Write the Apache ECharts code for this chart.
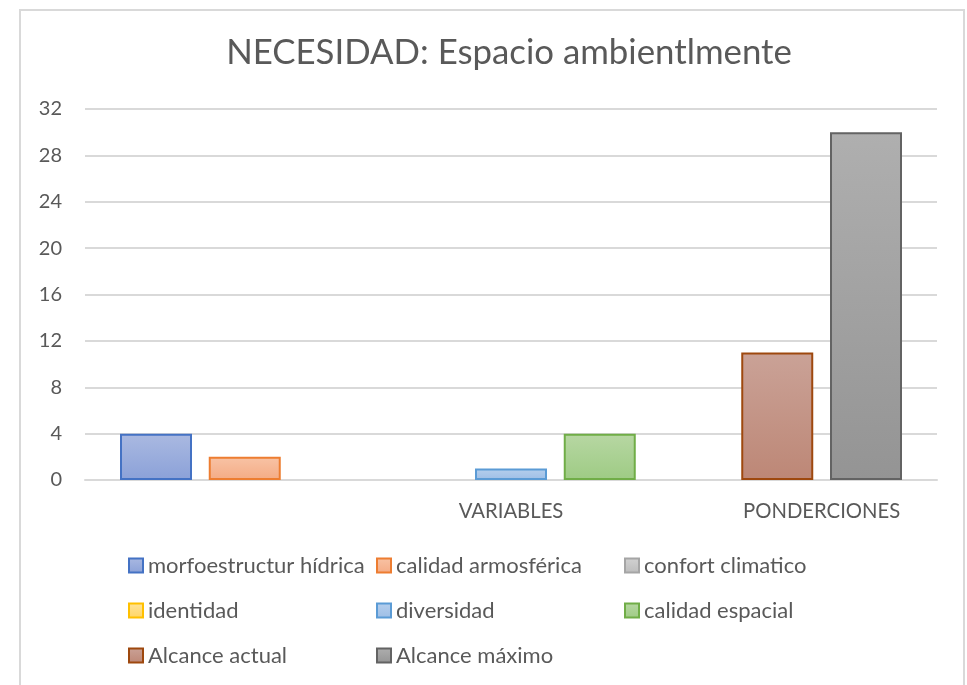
<!DOCTYPE html>
<html>
<head>
<meta charset="utf-8">
<script src="https://cdn.jsdelivr.net/npm/echarts@6/dist/echarts.min.js"></script>
<style>
  html, body { margin: 0; padding: 0; background: #fff; }
  #chart { width: 967px; height: 685px; }
</style>
</head>
<body>
<div id="chart"></div>
<script>
  // data
  var groupLabels = ['', 'VARIABLES', 'PONDERCIONES'];
  var seriesNames = [
    'morfoestructur hídrica', 'calidad armosférica', 'confort climatico',
    'identidad', 'diversidad', 'calidad espacial',
    'Alcance actual', 'Alcance máximo'
  ];
  var seriesValues = [4, 2, null, null, 1, 4, 11, 30];
  var yTicks = [0, 4, 8, 12, 16, 20, 24, 28, 32];

  // layout: where each series sits along the x axis, and where group labels go
  var slotOf = [0, 1, 2, 3, 4, 5, 7, 8];
  var groupPos = [null, 4, 7.5];

  var fills = [
    ['#aab9e1', '#8ba1d8', '#4472c4'],
    ['#f8c3a5', '#f4ab85', '#ed7d31'],
    ['#d2d2d2', '#bcbcbc', '#a5a5a5'],
    ['#ffe49c', '#ffd563', '#ffc000'],
    ['#b6cfed', '#9dbee6', '#5b9bd5'],
    ['#b7d7a3', '#9ecb84', '#70ad47'],
    ['#caa297', '#bd8776', '#9e480e'],
    ['#afafaf', '#949494', '#636363']
  ];

  var font = 'Lato, "Open Sans", sans-serif';
  var textColor = '#595959';

  var myChart = echarts.init(document.getElementById('chart'));

  var series = seriesNames.map(function (name, i) {
    return {
      name: name,
      type: 'bar',
      barWidth: 72,
      barGap: '-100%',
      data: [[slotOf[i], seriesValues[i]]],
      itemStyle: {
        color: new echarts.graphic.LinearGradient(0, 0, 0, 1, [
          {offset: 0, color: fills[i][0]},
          {offset: 1, color: fills[i][1]}
        ]),
        borderColor: fills[i][2],
        borderWidth: 2
      },
      emphasis: {disabled: true}
    };
  });

  myChart.setOption({
    animation: false,
    textStyle: {fontFamily: font},
    title: {
      text: 'NECESIDAD: Espacio ambientlmente',
      left: 509,
      top: 35,
      padding: 0,
      textAlign: 'center',
      textStyle: {
        fontFamily: font,
        fontSize: 34.8,
        fontWeight: 'normal',
        color: textColor
      }
    },
    graphic: [{
      type: 'rect',
      shape: {x: 20, y: 10, width: 944, height: 700},
      style: {fill: 'none', stroke: '#d9d9d9', lineWidth: 2},
      silent: true
    }],
    legend: {
      data: seriesNames,
      left: 128,
      top: 543,
      padding: 0,
      width: 760,
      itemGap: 0,
      itemWidth: 14,
      itemHeight: 14,
      icon: 'rect',
      textStyle: {
        fontFamily: font,
        fontSize: 22,
        color: textColor,
        width: 228,
        lineHeight: 45
      }
    },
    grid: {
      left: 85,
      right: 30,
      top: 109,
      bottom: 205,
      containLabel: false
    },
    xAxis: {
      type: 'value',
      min: -0.8,
      max: 8.8,
      splitLine: {show: false},
      axisTick: {show: false},
      axisLine: {show: true, lineStyle: {color: '#d9d9d9', width: 2}},
      axisLabel: {
        customValues: groupPos.filter(function (p) { return p !== null; }),
        formatter: function (v) {
          var k = groupPos.indexOf(v);
          return k >= 0 ? groupLabels[k] : '';
        },
        margin: 21,
        fontFamily: font,
        fontSize: 20.3,
        color: textColor
      }
    },
    yAxis: {
      type: 'value',
      min: yTicks[0],
      max: yTicks[yTicks.length - 1],
      interval: 4,
      axisLine: {show: false},
      axisTick: {show: false},
      splitLine: {lineStyle: {color: '#d9d9d9', width: 2}},
      axisLabel: {
        margin: 23,
        fontFamily: font,
        fontSize: 20,
        color: textColor
      }
    },
    series: series
  });
</script>
</body>
</html>
